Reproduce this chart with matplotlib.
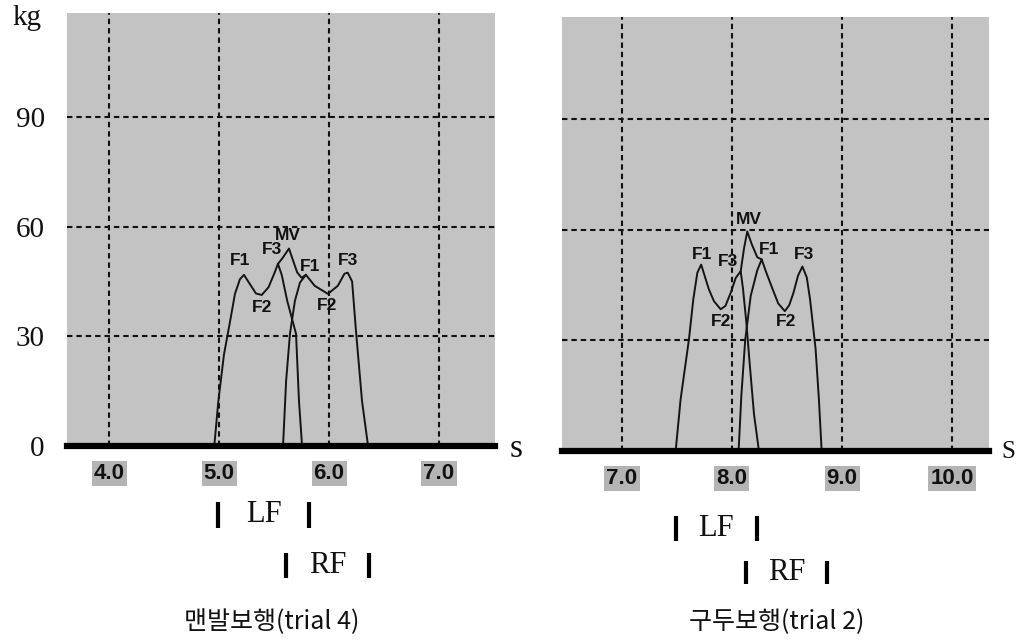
import matplotlib
matplotlib.use("Agg")
import matplotlib.pyplot as plt
from matplotlib.transforms import blended_transform_factory

# ---------------- data ----------------
# Left panel: barefoot walking (trial 4)
left_lf_t = [4.957, 4.994, 5.045, 5.10, 5.145, 5.19, 5.227, 5.28, 5.336, 5.388, 5.45, 5.50, 5.536, 5.57, 5.62, 5.70, 5.727, 5.755]
left_lf_kg = [0, 12.3, 25, 34, 41.6, 45.6, 46.8, 44.3, 41.7, 41.3, 43.4, 47, 49.8, 46.8, 39.7, 30.7, 12.3, 0]
left_rf_t = [5.582, 5.61, 5.645, 5.69, 5.736, 5.79, 5.87, 5.99, 6.08, 6.14, 6.17, 6.21, 6.245, 6.30, 6.355]
left_rf_kg = [0, 17.8, 30.7, 39.7, 44.7, 46.8, 43.8, 41.6, 43.8, 47.1, 47.4, 45, 31.5, 12.3, 0]
left_mv_t = [5.536, 5.58, 5.636, 5.67, 5.71, 5.75, 5.79]
left_mv_kg = [49.8, 51.5, 54, 51, 47.5, 46, 46.8]
left_xticks = [4.0, 5.0, 6.0, 7.0]
left_xticklabels = ["4.0", "5.0", "6.0", "7.0"]
left_lf_phase = [4.99, 5.82]
left_rf_phase = [5.61, 6.36]
left_labels = ["F1", "F3", "MV", "F2", "F1", "F3", "F2"]
left_label_t = [5.19, 5.48, 5.63, 5.39, 5.83, 6.17, 5.98]
left_label_kg = [50.7, 53.7, 57.5, 37.8, 49.0, 50.7, 38.4]
left_title = "맨발보행(trial 4)"

# Right panel: shoe walking (trial 2)
right_lf_t = [7.488, 7.533, 7.609, 7.648, 7.685, 7.72, 7.79, 7.836, 7.897, 7.94, 7.99, 8.034, 8.079, 8.10, 8.13, 8.16, 8.20, 8.245]
right_lf_kg = [0, 14, 30.3, 41, 48.3, 50.5, 43.8, 40.6, 38.4, 39.3, 43, 46.9, 48.7, 44, 35, 24, 10, 0]
right_rf_t = [8.06, 8.085, 8.12, 8.17, 8.23, 8.27, 8.31, 8.37, 8.42, 8.48, 8.52, 8.56, 8.60, 8.64, 8.68, 8.71, 8.76, 8.79, 8.815]
right_rf_kg = [0, 15, 30, 42, 49, 51.9, 48.5, 43.8, 40, 37.9, 39.5, 43, 47.5, 50, 47, 41, 27.6, 14, 0]
right_mv_t = [8.079, 8.11, 8.139, 8.18, 8.23, 8.27]
right_mv_kg = [48.7, 55, 59.5, 56, 52.5, 51.9]
right_xticks = [7.0, 8.0, 9.0, 10.0]
right_xticklabels = ["7.0", "8.0", "9.0", "10.0"]
right_lf_phase = [7.49, 8.227]
right_rf_phase = [8.127, 8.864]
right_labels = ["F1", "F3", "MV", "F2", "F1", "F3", "F2"]
right_label_t = [7.73, 7.96, 8.155, 7.90, 8.34, 8.655, 8.49]
right_label_kg = [53.2, 51.4, 62.7, 35.2, 54.6, 53.2, 35.2]
right_title = "구두보행(trial 2)"

y_ticks = [0, 30, 60, 90]
y_ticklabels = ["0", "30", "60", "90"]

# ---------------- figure ----------------
W, H = 1016, 644
fig = plt.figure(figsize=(W / 100, H / 100), dpi=100)
fig.patch.set_facecolor("white")

SERIF = ["Liberation Serif", "DejaVu Serif"]
SANS = ["Liberation Sans", "DejaVu Sans"]
KOR = ["Noto Sans CJK KR", "DejaVu Sans"]

def px_axes(l, t, r, b):
    return fig.add_axes([l / W, 1 - b / H, (r - l) / W, (b - t) / H])

BG = "#c3c3c3"
LINEC = "#141414"

def panel(ax, xlim, ylim_top, lf_t, lf_kg, rf_t, rf_kg, mv_t, mv_kg,
          xticks, xticklabels, labels, lt, lk, show_y):
    ax.set_facecolor(BG)
    ax.set_xlim(*xlim)
    ax.set_ylim(0, ylim_top)
    for s in ax.spines.values():
        s.set_visible(False)
    ax.set_xticks(xticks)
    ax.set_xticklabels(xticklabels, fontfamily=SANS, fontweight="bold",
                       fontsize=16, color="#111111")
    for lab in ax.get_xticklabels():
        lab.set_bbox(dict(facecolor="#b4b4b4", edgecolor="none", pad=1.5))
    ax.set_yticks(y_ticks)
    if show_y:
        ax.set_yticklabels(y_ticklabels, fontfamily=SERIF, fontsize=21, color="#111111")
    else:
        ax.set_yticklabels([])
    ax.tick_params(axis="x", length=0, pad=12)
    ax.tick_params(axis="y", length=0, pad=16)
    ax.grid(True, color="#111111", linestyle=(0, (2.6, 1.9)), linewidth=1.5)
    ax.set_axisbelow(True)
    # curves
    ax.plot(lf_t, lf_kg, color=LINEC, lw=1.4, zorder=3)
    ax.plot(rf_t, rf_kg, color=LINEC, lw=1.4, zorder=3)
    ax.plot(mv_t, mv_kg, color=LINEC, lw=1.4, zorder=3)
    # thick baseline
    ax.axhline(0, color="black", lw=4.5, zorder=4, clip_on=False)
    for s, t, k in zip(labels, lt, lk):
        ax.text(t, k, s, ha="center", va="center", fontfamily=SANS,
                fontweight="bold", fontsize=12.5, color="#111111", zorder=5)

# Left panel
axL = px_axes(67, 13, 495, 446)
panel(axL, (3.618, 7.509), 118.4, left_lf_t, left_lf_kg, left_rf_t, left_rf_kg,
      left_mv_t, left_mv_kg, left_xticks, left_xticklabels,
      left_labels, left_label_t, left_label_kg, True)

# Right panel
axR = px_axes(562, 17, 989, 451)
panel(axR, (6.455, 10.336), 117.6, right_lf_t, right_lf_kg, right_rf_t, right_rf_kg,
      right_mv_t, right_mv_kg, right_xticks, right_xticklabels,
      right_labels, right_label_t, right_label_kg, False)

# axis unit labels
fig.text(27 / W, 1 - 18 / H, "kg", fontfamily=SERIF, fontsize=21, ha="center", va="center", color="#111111")
fig.text(516 / W, 1 - 449 / H, "s", fontfamily=SERIF, fontsize=24, ha="center", va="center", color="#111111")
fig.text(1008 / W, 1 - 452 / H, "S", fontfamily=SERIF, fontsize=18, ha="center", va="center", color="#111111")

# stance phase markers
def phase(ax, xs, y0, y1, text):
    tr = blended_transform_factory(ax.transData, fig.transFigure)
    for x in xs:
        ax.plot([x, x], [1 - y0 / H, 1 - y1 / H], color="black", lw=3,
                transform=tr, clip_on=False, solid_capstyle="butt")
    ax.text((xs[0] + xs[1]) / 2, 1 - (y0 + y1) / 2 / H, text, transform=tr,
            ha="center", va="center", fontfamily=SERIF, fontsize=22, color="#111111")

phase(axL, left_lf_phase, 502, 528, "LF")
phase(axL, left_rf_phase, 553, 578, "RF")
phase(axR, right_lf_phase, 516, 541, "LF")
phase(axR, right_rf_phase, 561, 584, "RF")

# titles
fig.text(272 / W, 1 - 622 / H, left_title, fontfamily=KOR, fontsize=18,
         ha="center", va="center", color="#111111")
fig.text(777 / W, 1 - 622 / H, right_title, fontfamily=KOR, fontsize=18,
         ha="center", va="center", color="#111111")

fig.savefig("out.png", dpi=100, facecolor="white")
